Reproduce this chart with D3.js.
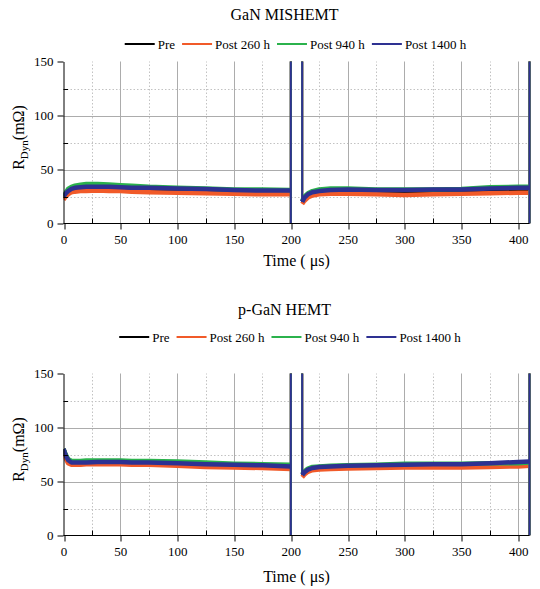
<!DOCTYPE html>
<html>
<head>
<meta charset="utf-8">
<script src="https://cdn.jsdelivr.net/npm/d3@7"></script>
<style>
  body { margin: 0; background: #fff; }
  svg { display: block; }
  text { font-family: "Liberation Serif", "Times New Roman", Tinos, serif; fill: #000; }
</style>
</head>
<body>
<svg id="chart" width="540" height="589"></svg>
<script>
// Sample times (µs); the null-valued entry at 205 marks the break between the two pulses
const times = [0, 2, 4, 7, 10, 15, 20, 30, 40, 50, 60, 75, 100, 125, 150, 175, 200,
               205,
               210, 212, 215, 219, 225, 235, 250, 275, 300, 325, 350, 375, 400, 410];

const seriesNames  = ["Pre", "Post 260 h", "Post 940 h", "Post 1400 h"];
const seriesColors = ["#000000", "#f15a29", "#2bb24c", "#2e3192"];

// GaN MISHEMT, dynamic on-resistance (mΩ)
const misPre  = [24, 28, 30, 32, 33, 33.5, 34, 34, 33.5, 33, 32.5, 32, 31.5, 31, 30.5, 30, 30,
                 null,
                 20, 23, 26, 28, 29, 30, 30, 30, 30, 30, 30.5, 31, 31, 31];
const mis260  = [22, 25, 27, 29, 29.5, 30, 30, 30.5, 30, 30, 29.5, 29, 28.5, 28, 27.5, 27, 27,
                 null,
                 18, 21, 24, 26, 27, 27.5, 27.5, 27, 26.5, 27, 27.5, 28, 28.5, 28.5];
const mis940  = [25, 29, 32, 34, 35, 36, 36.5, 36.5, 36, 35.5, 35, 34, 33, 32.5, 31.5, 31.5, 31,
                 null,
                 21, 25, 28, 30, 31.5, 32.5, 32.5, 31.5, 31.5, 31.5, 32, 33.5, 34, 34];
const mis1400 = [25, 28, 30, 32, 33, 33.5, 34, 34, 34, 33.5, 33, 33, 32.5, 32, 31, 30.5, 30.5,
                 null,
                 20, 24, 27, 29, 30, 31, 31.5, 31, 31, 31.5, 31.5, 32.5, 33, 33];

// p-GaN HEMT, dynamic on-resistance (mΩ)
const pganPre  = [80, 74, 70, 68, 68, 68, 68, 68.5, 68.5, 68.5, 68, 68, 67.5, 66.5, 65.5, 65, 64,
                  null,
                  56, 58, 60.5, 62, 63, 63.5, 64, 64.5, 65, 65.5, 66, 66, 66.5, 67];
const pgan260  = [78, 71, 67, 65.5, 65.5, 65.5, 66, 66, 66, 66, 65.5, 65.5, 64.5, 63.5, 63, 62.5, 61.5,
                  null,
                  54, 56.5, 59, 60.5, 61, 61.5, 62, 62.5, 63, 63, 63, 63.5, 64, 64.5];
const pgan940  = [80, 75, 71, 69, 69, 69, 69.5, 69.5, 69.5, 69.5, 69, 69, 68.5, 67.5, 66.5, 66, 65.5,
                  null,
                  57, 59.5, 62, 63.5, 64, 64.5, 65, 65.5, 66.5, 66.5, 66.5, 67, 67, 67.5];
const pgan1400 = [80, 74, 70, 67.5, 67.5, 67.5, 67.5, 68, 68, 68, 67.5, 67.5, 67, 66, 65.5, 65, 64,
                  null,
                  56, 58.5, 61, 62.5, 63.5, 64, 64.5, 65, 65.5, 66, 66, 67, 68, 68.5];

// Switching transients that run off scale: times and the lowest value each reaches
const spikeTimes    = [200, 210, 410];
const misSpikeLows  = [0, 20, 0];
const pganSpikeLows = [0, 56, 0];

// Axis ticks
const xTicks = [0, 50, 100, 150, 200, 250, 300, 350, 400];
const xMinor = [25, 75, 125, 175, 225, 275, 325, 375];
const yTicks = [0, 50, 100, 150];
const yMinor = [25, 75, 125];

const panels = [
  { id: "mis",  title: "GaN MISHEMT", titleY: 19.5, legendY: 44, legendCx: 295.5,
    top: 61.5, bottom: 223.5, xLabelY: 265.5,
    series: [misPre, mis260, mis940, mis1400], spikeLows: misSpikeLows },
  { id: "pgan", title: "p-GaN HEMT", titleY: 315, legendY: 337, legendCx: 290,
    top: 373.5, bottom: 535.5, xLabelY: 582,
    series: [pganPre, pgan260, pgan940, pgan1400], spikeLows: pganSpikeLows }
];

const svg = d3.select("#chart");
svg.append("rect").attr("width", 540).attr("height", 589).attr("fill", "#fff");

const x = d3.scaleLinear().domain([0, 410]).range([63.5, 529.5]);

panels.forEach(p => {
  const y = d3.scaleLinear().domain([0, 150]).range([p.bottom, p.top]);
  const g = svg.append("g");

  // Minor grid (dotted)
  g.append("g").selectAll("line").data(xMinor).join("line")
    .attr("x1", d => Math.round(x(d)) + 0.5).attr("x2", d => Math.round(x(d)) + 0.5)
    .attr("y1", y(0)).attr("y2", y(150))
    .attr("stroke", "#c2c2c2").attr("stroke-dasharray", "1.5,2");
  g.append("g").selectAll("line").data(yMinor).join("line")
    .attr("x1", x(0)).attr("x2", x(410))
    .attr("y1", d => Math.round(y(d)) + 0.5).attr("y2", d => Math.round(y(d)) + 0.5)
    .attr("stroke", "#c2c2c2").attr("stroke-dasharray", "1.5,2");

  // Major grid (solid)
  g.append("g").selectAll("line").data(xTicks.filter(d => d > 0)).join("line")
    .attr("x1", d => Math.round(x(d)) + 0.5).attr("x2", d => Math.round(x(d)) + 0.5)
    .attr("y1", y(0)).attr("y2", y(150))
    .attr("stroke", "#acacac").attr("stroke-width", 1);
  g.append("g").selectAll("line").data([50, 100]).join("line")
    .attr("x1", x(0)).attr("x2", x(410))
    .attr("y1", d => Math.round(y(d)) + 0.5).attr("y2", d => Math.round(y(d)) + 0.5)
    .attr("stroke", "#acacac").attr("stroke-width", 1);

  // Clip region for the traces (a little room on the right for the last transient)
  svg.append("clipPath").attr("id", "clip-" + p.id)
    .append("rect")
    .attr("x", x(0)).attr("y", y(150))
    .attr("width", x(410) - x(0) + 3).attr("height", y(0) - y(150));

  const plot = g.append("g").attr("clip-path", `url(#clip-${p.id})`);

  const line = d3.line()
    .defined(d => d[1] != null)
    .x(d => x(d[0]))
    .y(d => y(d[1]));

  p.series.forEach((vals, i) => {
    const pts = times.map((t, k) => [t, vals[k]]);
    plot.append("path")
      .datum(pts)
      .attr("d", line)
      .attr("fill", "none")
      .attr("stroke", seriesColors[i])
      .attr("stroke-width", 4.5)
      .attr("stroke-linejoin", "round");
    // off-scale transients at the switching instants
    plot.append("g").selectAll("line").data(spikeTimes).join("line")
      .attr("x1", d => x(d)).attr("x2", d => x(d))
      .attr("y1", (d, k) => y(p.spikeLows[k])).attr("y2", y(160))
      .attr("stroke", seriesColors[i]).attr("stroke-width", 2);
  });

  // Bottom axis: outward major ticks, inward minor ticks
  const xAxis = g.append("g")
    .attr("transform", `translate(0,${p.bottom})`)
    .call(d3.axisBottom(x).tickValues(xTicks).tickSize(6).tickPadding(5).tickSizeOuter(0));
  xAxis.select(".domain").attr("d", `M${x(0)},0H${x(410)}`);
  xAxis.selectAll(".tick line").attr("transform", d => `translate(${Math.round(x(d)) + 0.5 - x(d)},0)`);
  xAxis.append("g").selectAll("line").data(xMinor).join("line")
    .attr("x1", d => Math.round(x(d)) + 0.5).attr("x2", d => Math.round(x(d)) + 0.5)
    .attr("y1", 0).attr("y2", -5).attr("stroke", "#000");

  // Left axis
  const yAxis = g.append("g")
    .attr("transform", `translate(${x(0)},0)`)
    .call(d3.axisLeft(y).tickValues(yTicks).tickSize(6).tickPadding(4).tickSizeOuter(0));
  yAxis.append("g").selectAll("line").data(yMinor).join("line")
    .attr("x1", 0).attr("x2", 4.5)
    .attr("y1", d => Math.round(y(d)) + 0.5).attr("y2", d => Math.round(y(d)) + 0.5)
    .attr("stroke", "#000");

  [xAxis, yAxis].forEach(a => {
    a.attr("font-family", null).attr("font-size", null);
    a.selectAll("text").style("font-size", "13px").attr("fill", "#000");
    a.selectAll("path, line").attr("stroke", "#000");
  });

  // Axis titles
  g.append("text")
    .attr("x", (x(0) + x(410)) / 2).attr("y", p.xLabelY)
    .attr("text-anchor", "middle").style("font-size", "16px")
    .text("Time ( μs)");

  const yl = g.append("text")
    .attr("transform", `translate(23.5,${(p.top + p.bottom) / 2 - 5}) rotate(-90)`)
    .attr("text-anchor", "middle").style("font-size", "16px");
  yl.append("tspan").text("R");
  yl.append("tspan").attr("dy", 4).style("font-size", "11px").text("Dyn");
  yl.append("tspan").attr("dy", -4).text("(mΩ)");

  // Panel title
  g.append("text")
    .attr("x", 284.5).attr("y", p.titleY)
    .attr("text-anchor", "middle").style("font-size", "16px")
    .text(p.title);

  // Legend, laid out from the measured label widths and centred
  const leg = g.append("g");
  let cx = 0;
  seriesNames.forEach((name, i) => {
    const it = leg.append("g").attr("transform", `translate(${cx},0)`);
    it.append("line").attr("x1", 0).attr("x2", 30).attr("y1", 0).attr("y2", 0)
      .attr("stroke", seriesColors[i]).attr("stroke-width", 2);
    const t = it.append("text").attr("x", 33).attr("y", 4.5)
      .style("font-size", "13px").text(name);
    cx += 33 + t.node().getComputedTextLength() + 7;
  });
  const legW = cx - 7;
  leg.attr("transform", `translate(${p.legendCx - legW / 2},${p.legendY})`);
});
</script>
</body>
</html>
